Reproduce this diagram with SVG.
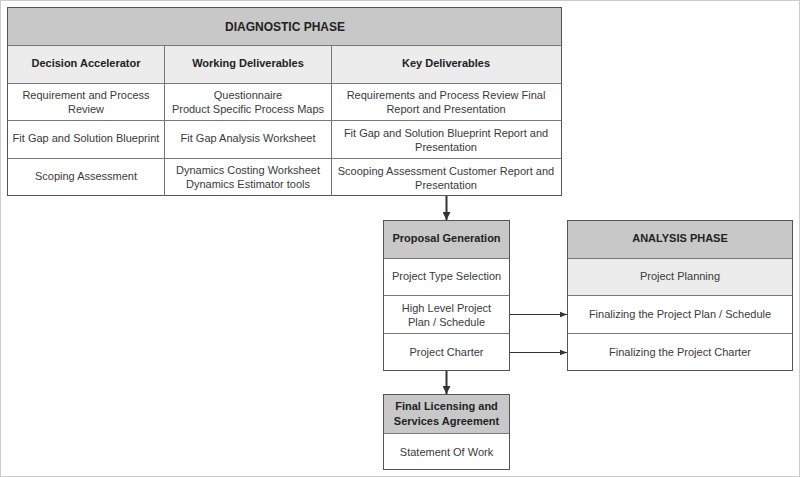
<svg xmlns="http://www.w3.org/2000/svg" width="800" height="477" viewBox="0 0 800 477">
<defs>
<style>
.t{font-family:"Liberation Sans",Arial,sans-serif;font-size:11px;fill:#3a3a3a;text-anchor:middle}
.b{font-weight:bold;fill:#222}
.title{font-size:12px}
.box{fill:#fff;stroke:#555;stroke-width:1}
.ln{stroke:#777;stroke-width:1;fill:none}
.dark{fill:#c8c8c8}
.light{fill:#ececec}
.con{stroke:#333;fill:none}
</style>
<marker id="ah" viewBox="0 0 10 10" refX="10" refY="5" markerWidth="7" markerHeight="7" orient="auto" markerUnits="userSpaceOnUse">
<path d="M0,1 L10,5 L0,9 z" fill="#333"/>
</marker>
<marker id="ah2" viewBox="0 0 10 10" refX="10" refY="5" markerWidth="8" markerHeight="8" orient="auto" markerUnits="userSpaceOnUse">
<path d="M0,0 L10,5 L0,10 z" fill="#333"/>
</marker>
</defs>
<rect x="0.5" y="0.5" width="799" height="476" fill="#fff" stroke="#999" stroke-dasharray="1,1"/>

<g id="diagnostic">
<rect class="box" x="7.5" y="7.5" width="554" height="188"/>
<rect class="dark" x="8" y="8" width="553" height="37"/>
<rect class="light" x="8" y="45" width="553" height="38"/>
<line class="ln" x1="7.5" y1="45.5" x2="561.5" y2="45.5"/>
<line class="ln" x1="7.5" y1="83.5" x2="561.5" y2="83.5"/>
<line class="ln" x1="7.5" y1="120.5" x2="561.5" y2="120.5"/>
<line class="ln" x1="7.5" y1="158.5" x2="561.5" y2="158.5"/>
<line class="ln" x1="164.5" y1="45.5" x2="164.5" y2="195.5"/>
<line class="ln" x1="331.5" y1="45.5" x2="331.5" y2="195.5"/>
<text class="t b title" x="285" y="30.5">DIAGNOSTIC PHASE</text>
<text class="t b" x="86" y="67">Decision Accelerator</text>
<text class="t b" x="248" y="67">Working Deliverables</text>
<text class="t b" x="446" y="67">Key Deliverables</text>
<text class="t" x="86" y="99">Requirement and Process</text>
<text class="t" x="86" y="113">Review</text>
<text class="t" x="248" y="99">Questionnaire</text>
<text class="t" x="248" y="113">Product Specific Process Maps</text>
<text class="t" x="446" y="99">Requirements and Process Review Final</text>
<text class="t" x="446" y="113">Report and Presentation</text>
<text class="t" x="86" y="142">Fit Gap and Solution Blueprint</text>
<text class="t" x="248" y="142">Fit Gap Analysis Worksheet</text>
<text class="t" x="446" y="137">Fit Gap and Solution Blueprint Report and</text>
<text class="t" x="446" y="151">Presentation</text>
<text class="t" x="86" y="180">Scoping Assessment</text>
<text class="t" x="248" y="174">Dynamics Costing Worksheet</text>
<text class="t" x="248" y="188">Dynamics Estimator tools</text>
<text class="t" x="446" y="175">Scooping Assessment Customer Report and</text>
<text class="t" x="446" y="189">Presentation</text>
</g>

<g id="proposal">
<rect class="box" x="383.5" y="220.5" width="126" height="150"/>
<rect class="dark" x="384" y="221" width="125" height="37"/>
<line class="ln" x1="383.5" y1="258.5" x2="509.5" y2="258.5"/>
<line class="ln" x1="383.5" y1="295.5" x2="509.5" y2="295.5"/>
<line class="ln" x1="383.5" y1="333.5" x2="509.5" y2="333.5"/>
<text class="t b" x="446.5" y="242">Proposal Generation</text>
<text class="t" x="446.5" y="280">Project Type Selection</text>
<text class="t" x="446.5" y="312">High Level Project</text>
<text class="t" x="446.5" y="326">Plan / Schedule</text>
<text class="t" x="446.5" y="356">Project Charter</text>
</g>

<g id="analysis">
<rect class="box" x="567.5" y="220.5" width="225" height="150"/>
<rect class="dark" x="568" y="221" width="224" height="37"/>
<rect class="light" x="568" y="259" width="224" height="36"/>
<line class="ln" x1="567.5" y1="258.5" x2="792.5" y2="258.5"/>
<line class="ln" x1="567.5" y1="295.5" x2="792.5" y2="295.5"/>
<line class="ln" x1="567.5" y1="333.5" x2="792.5" y2="333.5"/>
<text class="t b" x="680" y="242">ANALYSIS PHASE</text>
<text class="t" x="680" y="280">Project Planning</text>
<text class="t" x="680" y="318">Finalizing the Project Plan / Schedule</text>
<text class="t" x="680" y="356">Finalizing the Project Charter</text>
</g>

<g id="final">
<rect class="box" x="383.5" y="394.5" width="126" height="75"/>
<rect class="dark" x="384" y="395" width="125" height="38"/>
<line class="ln" x1="383.5" y1="433.5" x2="509.5" y2="433.5"/>
<text class="t b" x="446.5" y="410">Final Licensing and</text>
<text class="t b" x="446.5" y="425">Services Agreement</text>
<text class="t" x="446.5" y="456">Statement Of Work</text>
</g>

<g id="connectors">
<line class="con" x1="446.5" y1="196" x2="446.5" y2="220" stroke-width="2" marker-end="url(#ah2)"/>
<line class="con" x1="446.5" y1="371" x2="446.5" y2="394" stroke-width="2" marker-end="url(#ah2)"/>
<line class="con" x1="510" y1="314.5" x2="567" y2="314.5" stroke-width="1" marker-end="url(#ah)"/>
<line class="con" x1="510" y1="352.5" x2="567" y2="352.5" stroke-width="1" marker-end="url(#ah)"/>
</g>
</svg>
